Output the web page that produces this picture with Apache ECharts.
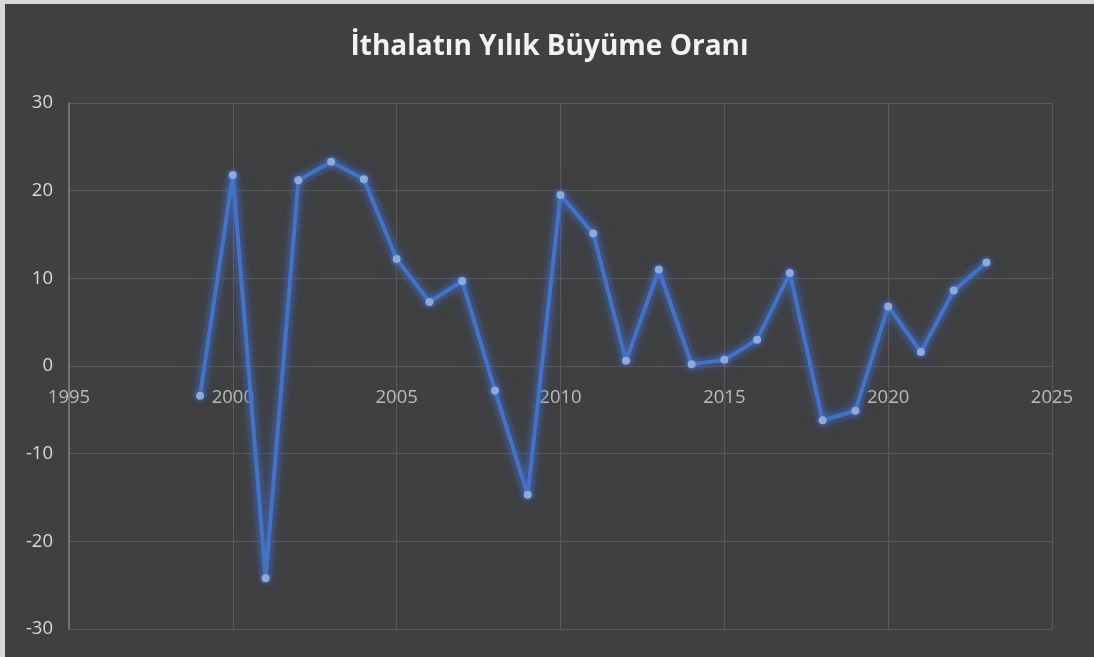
<!DOCTYPE html>
<html>
<head>
<meta charset="utf-8">
<script src="https://cdn.jsdelivr.net/npm/echarts@6/dist/echarts.min.js"></script>
<style>
  html, body { margin: 0; padding: 0; background: #d9d9d9; }
  #chart { position: absolute; left: 5px; top: 4px; width: 1089px; height: 653px; background: #404040; }
</style>
</head>
<body>
<div id="chart"></div>
<script>
// yıllar ve büyüme oranları (%)
var years = [1999, 2000, 2001, 2002, 2003, 2004, 2005, 2006, 2007, 2008, 2009, 2010, 2011,
	2012, 2013, 2014, 2015, 2016, 2017, 2018, 2019, 2020, 2021, 2022, 2023];
var growth = [-3.4, 21.8, -24.2, 21.2, 23.3, 21.3, 12.2, 7.3, 9.7, -2.8, -14.7, 19.5, 15.1,
	0.6, 11.0, 0.2, 0.7, 3.0, 10.6, -6.2, -5.1, 6.8, 1.6, 8.6, 11.8];
var xTicks = [1995, 2000, 2005, 2010, 2015, 2020, 2025];

var points = [];
for (var i = 0; i < years.length; i++) {
	points.push([years[i], growth[i]]);
}
var tickPoints = [];
for (var j = 0; j < xTicks.length; j++) {
	tickPoints.push([xTicks[j], 0]);
}

var myChart = echarts.init(document.getElementById('chart'));
var labelFont = { color: '#d9d9d9', fontSize: 18.5, fontFamily: 'Open Sans' };
var option = {
	backgroundColor: '#404040',
	title: {
		text: 'İthalatın Yılık Büyüme Oranı',
		left: 'center',
		top: 24,
		textStyle: { color: '#f2f2f2', fontSize: 28, fontWeight: 'bold', fontFamily: 'Open Sans' }
	},
	grid: { left: 64, right: 42, top: 99, bottom: 28 },
	xAxis: {
		type: 'value',
		min: 1995,
		max: 2025,
		interval: 5,
		axisLine: { show: false },
		axisTick: { show: false },
		splitLine: { show: true, lineStyle: { color: '#5a5a5a', width: 1 } },
		axisLabel: { show: false }
	},
	yAxis: {
		type: 'value',
		min: -30,
		max: 30,
		interval: 10,
		axisLine: { show: true, lineStyle: { color: '#808080', width: 1.5 } },
		axisTick: { show: false },
		splitLine: { lineStyle: { color: '#5a5a5a', width: 1 } },
		axisLabel: Object.assign({ margin: 16 }, labelFont)
	},
	series: [{
		// parlama (glow) katmanı
		type: 'line',
		data: points,
		silent: true,
		symbol: 'circle',
		symbolSize: 14,
		lineStyle: { color: 'rgba(68,114,196,0.13)', width: 12, shadowBlur: 20, shadowColor: 'rgba(60,100,210,0.75)' },
		itemStyle: { color: 'rgba(68,114,210,0.22)', shadowBlur: 18, shadowColor: 'rgba(60,100,210,0.8)' },
		z: 2
	}, {
		type: 'line',
		data: points,
		symbol: 'circle',
		symbolSize: 8,
		lineStyle: { color: '#4472c4', width: 4, shadowBlur: 8, shadowColor: 'rgba(68,114,230,0.8)' },
		itemStyle: { color: '#8eaadb' },
		z: 3
	}, {
		// x ekseni etiketleri sıfır çizgisinin altında
		type: 'scatter',
		data: tickPoints,
		symbolSize: 0,
		silent: true,
		label: Object.assign({
			show: true,
			position: 'bottom',
			distance: 22,
			formatter: function (p) { return p.value[0]; }
		}, labelFont),
		z: 1
	}]
};
myChart.setOption(option);
</script>
</body>
</html>
